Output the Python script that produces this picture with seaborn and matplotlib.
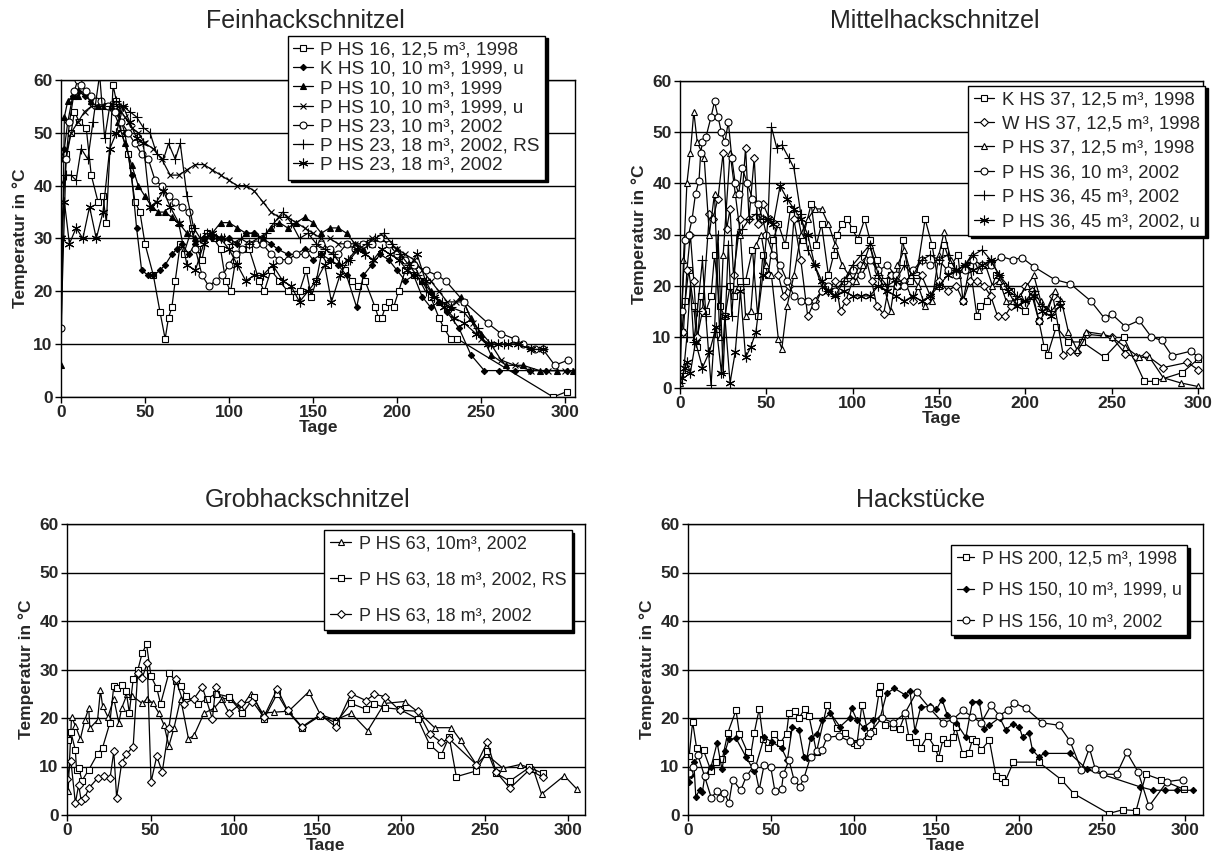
import matplotlib
matplotlib.use("Agg")
import matplotlib.pyplot as plt
import seaborn as sns

# ---------------- Feinhackschnitzel ----------------
fein_phs16_days = [3, 6, 8, 11, 15, 18, 22, 25, 27, 31, 33, 36, 40, 44, 47, 50, 55, 59, 62, 64,
                   66, 68, 71, 73, 78, 81, 84, 87, 91, 95, 98, 101, 104, 108, 112, 118, 121, 125, 130, 135,
                   140, 142, 146, 149, 152, 155, 159, 164, 169, 173, 177, 181, 187, 189, 191, 193, 195, 198, 201, 205,
                   210, 215, 220, 225, 228, 232, 236, 293, 301]
fein_phs16_temp = [46, 50, 54, 52, 51, 42, 37, 38, 33, 59, 56, 50, 46, 37, 35, 29, 23, 16, 11, 15,
                   17, 22, 29, 27, 32, 28, 26, 31, 30, 28, 22, 20, 26, 28, 28, 22, 20, 24, 22, 20,
                   19, 20, 24, 19, 22, 27, 25, 26, 24, 22, 21, 22, 17, 15, 15, 17, 18, 17, 20, 24,
                   23, 22, 19, 15, 13, 11, 11, 0, 1]

fein_khs10_days = [0, 2, 4, 7, 10, 14, 18, 22, 26, 30, 34, 38, 42, 45, 48, 52, 55, 59, 62, 66,
                   69, 72, 76, 80, 85, 90, 95, 100, 105, 110, 115, 120, 125, 129, 135, 140, 145, 150, 155, 160,
                   165, 170, 176, 180, 185, 190, 195, 200, 205, 210, 215, 220, 225, 230, 237, 244, 252, 261, 270, 279,
                   289, 301]
fein_khs10_temp = [45, 47, 52, 57, 58, 57, 56, 56, 55, 55, 54, 50, 42, 32, 24, 23, 23, 24, 25, 27,
                   28, 29, 27, 29, 30, 30, 30, 30, 29, 31, 31, 30, 29, 28, 27, 27, 28, 26, 27, 26,
                   25, 23, 17, 23, 25, 27, 26, 24, 22, 23, 19, 17, 18, 16, 13, 8, 5, 5, 5, 5,
                   5, 5]

fein_phs10_days = [0, 2, 4, 7, 10, 14, 18, 22, 26, 30, 34, 38, 42, 46, 50, 54, 58, 62, 66, 70,
                   75, 80, 85, 90, 95, 100, 105, 110, 115, 120, 125, 130, 135, 140, 145, 150, 155, 160, 165, 170,
                   175, 180, 185, 190, 195, 200, 205, 210, 215, 220, 225, 232, 238, 244, 250, 256, 265, 275, 285, 295,
                   305]
fein_phs10_temp = [6, 53, 56, 57, 57, 58, 56, 55, 55, 55, 52, 48, 44, 40, 38, 36, 35, 35, 34, 33,
                   31, 30, 30, 31, 33, 33, 32, 31, 31, 30, 32, 33, 32, 33, 34, 33, 31, 32, 32, 31,
                   29, 28, 29, 30, 29, 28, 26, 25, 22, 20, 18, 17, 19, 15, 12, 8, 6, 6, 5, 5,
                   5]

fein_phs10u_days = [0, 3, 6, 10, 14, 18, 22, 26, 30, 34, 38, 42, 46, 50, 55, 60, 65, 70, 75, 80,
                    85, 90, 95, 100, 105, 110, 115, 120, 125, 130, 135, 140, 145, 150, 155, 160, 165, 170, 175, 180,
                    185, 190, 195, 200, 205, 210, 215, 220, 225, 230, 235, 240, 245, 250, 256, 262, 270, 280, 290, 300,
                    306]
fein_phs10u_temp = [30, 45, 50, 52, 54, 55, 55, 55, 55, 55, 53, 51, 50, 48, 47, 45, 42, 42, 43, 44,
                    44, 43, 42, 41, 40, 40, 39, 37, 35, 34, 34, 33, 32, 31, 30, 30, 29, 29, 29, 29,
                    30, 30, 29, 28, 27, 26, 24, 22, 20, 18, 18, 18, 14, 11, 10, 7, 6, 5, 5, 5,
                    5]

fein_phs23_10_days = [0, 3, 5, 8, 10, 12, 15, 18, 21, 24, 28, 32, 36, 40, 44, 48, 52, 56, 60, 64,
                      68, 72, 76, 80, 84, 88, 92, 96, 100, 104, 108, 112, 116, 120, 125, 130, 135, 140, 145, 150,
                      155, 160, 165, 170, 175, 180, 185, 190, 195, 200, 205, 210, 217, 224, 229, 240, 254, 262, 270, 275,
                      282, 287, 294, 302]
fein_phs23_10_temp = [13, 45, 52, 58, 60, 59, 58, 57, 56, 56, 55, 54, 52, 50, 48, 46, 45, 41, 40, 38,
                      37, 36, 35, 28, 23, 21, 22, 23, 25, 27, 28, 29, 29, 29, 27, 26, 26, 27, 27, 28,
                      29, 28, 27, 29, 28, 29, 29, 30, 29, 27, 26, 25, 24, 23, 22, 18, 14, 12, 11, 10,
                      9, 9, 6, 7]

fein_phs23_18rs_days = [0, 3, 6, 9, 12, 16, 19, 23, 26, 29, 33, 37, 41, 45, 49, 53, 57, 61, 64, 68,
                        71, 75, 79, 83, 87, 92, 97, 102, 107, 112, 117, 122, 127, 132, 137, 142, 147, 152, 157, 162,
                        167, 172, 177, 182, 187, 192, 197, 202, 207, 212, 217, 222, 227, 232, 240, 248, 256, 264, 272, 280,
                        287]
fein_phs23_18rs_temp = [40, 42, 42, 41, 47, 45, 52, 61, 49, 55, 56, 55, 54, 53, 51, 50, 46, 45, 48, 45,
                        48, 38, 32, 30, 31, 30, 30, 29, 30, 29, 30, 31, 33, 35, 33, 30, 31, 29, 28, 27,
                        25, 26, 28, 29, 30, 31, 29, 27, 25, 23, 20, 19, 18, 17, 16, 13, 10, 10, 10, 9,
                        9]

fein_phs23_18_days = [0, 2, 5, 9, 13, 17, 21, 25, 29, 33, 37, 41, 45, 49, 53, 57, 61, 65, 70, 75,
                      80, 85, 90, 95, 100, 105, 110, 115, 120, 126, 132, 137, 142, 147, 152, 157, 161, 166, 171, 176,
                      181, 186, 191, 196, 201, 206, 212, 217, 222, 228, 234, 240, 247, 254, 260, 266, 272, 280, 287]
fein_phs23_18_temp = [30, 37, 29, 32, 30, 36, 30, 35, 47, 50, 55, 52, 49, 48, 36, 37, 39, 36, 33, 25,
                      24, 29, 31, 30, 28, 25, 22, 23, 23, 25, 22, 21, 18, 20, 22, 25, 18, 23, 26, 28,
                      27, 26, 28, 27, 26, 24, 27, 22, 19, 17, 15, 14, 12, 10, 10, 10, 10, 9, 9]

# ---------------- Mittelhackschnitzel ----------------
mittel_khs37_days = [1, 3, 5, 8, 10, 12, 15, 18, 20, 23, 26, 29, 31, 35, 38, 42, 45, 48, 51, 54,
                     57, 61, 64, 68, 71, 76, 79, 82, 86, 89, 91, 94, 97, 100, 103, 107, 110, 114, 118, 122,
                     126, 129, 133, 137, 142, 146, 150, 153, 157, 161, 164, 168, 172, 174, 178, 183, 187, 192, 196, 200,
                     204, 208, 211, 213, 218, 225, 233, 246, 257, 269, 275, 291, 300]
mittel_khs37_temp = [11, 17, 23, 16, 8, 18, 15, 18, 26, 16, 14, 20, 18, 21, 21, 27, 14, 26, 22, 29,
                     32, 28, 35, 34, 29, 36, 28, 32, 22, 26, 30, 32, 33, 31, 29, 33, 29, 25, 21, 22,
                     20, 29, 21, 22, 33, 28, 20, 28, 24, 26, 17, 24, 14, 16, 17, 22, 20, 19, 17, 15,
                     18, 13, 8, 6.5, 12, 9, 9, 6, 10, 1.3, 1.3, 3, 5.6]

mittel_whs37_days = [2, 4, 6, 8, 10, 13, 17, 19, 22, 25, 27, 29, 31, 35, 38, 40, 43, 45, 48, 52,
                     55, 57, 60, 63, 66, 70, 74, 78, 82, 86, 90, 93, 96, 100, 104, 108, 111, 114, 118, 122,
                     126, 130, 135, 140, 145, 150, 155, 160, 164, 168, 172, 176, 180, 184, 188, 192, 196, 200, 204, 208,
                     212, 216, 222, 226, 230, 236, 250, 258, 264, 270, 280, 294, 300]
mittel_whs37_temp = [11, 23, 30, 21, 10, 15, 34, 33, 37, 46, 31, 35, 22, 33, 47, 33, 45, 32, 36, 33,
                     32, 22, 18, 20, 33, 25, 14, 17, 19, 19, 21, 15, 17, 21, 24, 25, 21, 16, 14.5, 22,
                     20, 21, 17, 22, 18, 21, 19, 20, 17, 21, 21, 20, 18, 14, 14, 16, 17, 20, 19, 13,
                     15, 18, 6.5, 7.2, 7, 10.5, 10, 6.7, 6, 6.5, 4, 5, 3.6]

mittel_phs37_days = [0, 2, 4, 6, 8, 10, 14, 17, 20, 23, 25, 29, 32, 35, 38, 41, 44, 47, 50, 53,
                     57, 59, 62, 66, 70, 74, 78, 82, 86, 90, 94, 98, 102, 106, 110, 114, 118, 122, 126, 130,
                     134, 138, 142, 146, 150, 153, 157, 161, 165, 169, 173, 177, 181, 185, 189, 193, 197, 201, 205, 209,
                     213, 217, 221, 225, 230, 235, 245, 250, 258, 266, 272, 280, 290, 300]
mittel_phs37_temp = [1, 25, 40, 46, 54, 48, 45, 30, 38, 10, 26, 46, 38, 30, 14, 15, 28, 30, 24, 22,
                     9.5, 7.7, 16, 22, 30, 33, 35, 35, 32, 28, 24, 22, 21, 24, 28, 22, 20, 15, 24, 27,
                     22, 20, 16, 17, 26, 30.5, 25, 22, 24, 26, 23, 24, 20, 21, 17, 17, 18, 20, 22, 17,
                     15, 19, 17, 11, 7.5, 11, 10.5, 10, 8, 6, 6, 2, 1, 0.3]

mittel_phs36_10_days = [1, 3, 5, 7, 9, 11, 12, 13, 15, 18, 20, 22, 24, 26, 28, 30, 32, 34, 36, 39,
                        42, 45, 48, 50, 54, 58, 62, 66, 70, 74, 78, 82, 86, 90, 95, 100, 105, 110, 115, 120,
                        125, 130, 135, 140, 145, 150, 155, 160, 165, 170, 175, 180, 186, 193, 198, 205, 217, 226, 238, 246,
                        250, 258, 266, 273, 279, 285, 296, 300]
mittel_phs36_10_temp = [15, 29, 30, 33, 38, 40.5, 46, 48, 49, 53, 56, 53, 50, 48, 52, 45, 40, 38, 43, 40,
                        37, 36, 33, 30, 26, 24, 21, 18, 17, 17, 16, 19, 20, 19, 21, 23, 22, 25, 23, 24,
                        22, 20, 23, 25, 24, 25, 23, 22, 23, 25, 24, 24, 25.7, 25, 25.5, 23.7, 21.2, 20.4, 17, 13.6,
                        14.5, 12, 13.2, 10, 9.3, 6.3, 7.2, 6.1]

mittel_phs36_45_days = [0, 2, 4, 6, 8, 10, 13, 15, 18, 20, 22, 25, 28, 30, 33, 36, 40, 44, 48, 51,
                        53, 56, 59, 63, 66, 70, 74, 78, 82, 86, 90, 95, 100, 105, 110, 115, 120, 125, 130, 135,
                        140, 145, 150, 155, 160, 165, 170, 175, 180, 185, 190, 195, 200, 205, 210, 215, 220]
mittel_phs36_45_temp = [1, 3, 10, 20, 9, 15, 25, 14, 0.5, 11, 30, 3, 28, 14, 30, 31, 33, 34, 33, 33,
                        51, 47, 47.5, 45, 43, 34, 27, 24, 20, 19, 18, 21, 24, 26, 28, 22, 20, 21, 24, 22,
                        25, 26, 25, 26, 23, 24, 26, 27, 25, 22, 20, 18, 17, 19, 16, 15, 17]

mittel_phs36_45u_days = [1, 3, 4, 6, 9, 13, 17, 21, 24, 26, 29, 32, 35, 38, 41, 44, 48, 51, 54, 58,
                         62, 66, 70, 74, 78, 82, 86, 90, 95, 100, 105, 110, 115, 120, 125, 130, 135, 140, 145, 150,
                         155, 160, 165, 170, 175, 180, 185, 190, 195, 200, 205, 210, 215, 220]
mittel_phs36_45u_temp = [2, 4, 5, 3, 9, 4, 7, 12, 3, 14, 1, 7, 19, 6, 8, 11, 22, 33, 32, 39.5,
                         37, 35, 33, 30, 24, 21, 19, 18, 19, 18, 18, 18, 20, 19, 18, 17, 18, 17, 18, 20,
                         22, 23, 24, 23, 24, 25, 22, 19, 16, 17, 18, 15, 14, 16]

# ---------------- Grobhackschnitzel ----------------
grob_phs63_10_days = [0.7, 2.7, 5, 8, 10.7, 13, 13.7, 18.3, 20, 21.3, 24.5, 28, 31, 32.7, 36, 39, 45, 48, 51.5, 55,
                      58, 61, 64, 68, 72.7, 76, 82, 88, 93, 98, 104, 110, 117, 124, 132.6, 144.7, 151.6, 160.8, 170, 180,
                      190, 202, 211, 220, 230, 235.5, 245, 251, 261, 271, 279, 284, 297.6, 305]
grob_phs63_10_temp = [5, 20.2, 18.4, 15.7, 19.6, 22, 17.9, 19.6, 25.7, 22.5, 20.2, 24, 19, 22, 25, 24.6, 23, 24, 23, 21,
                      18.6, 14.3, 17.9, 24, 15.7, 16.4, 21, 22, 24, 24, 22, 25, 21, 21.2, 21.4, 25.4, 20.7, 19.6, 21, 17.4,
                      23, 23.4, 21, 18, 18, 15.4, 10.4, 12.5, 9.6, 10.4, 9.5, 4.3, 8.1, 5.4]

grob_phs63_18rs_days = [0.7, 2.3, 5, 5.7, 7, 9, 13, 18.3, 21.3, 25.6, 28, 30, 32.7, 35.4, 37.3, 39.6, 42.3, 45, 47.6, 50.3,
                        53.7, 56, 61, 65, 68, 71, 78.4, 83.5, 89, 96.7, 105, 112, 117.8, 125.8, 132, 140.6, 151.6, 160.8, 170, 179,
                        184, 190.5, 199, 210, 217, 224, 228.7, 233, 245, 251.5, 256.8, 265, 276.7, 284.7]
grob_phs63_18rs_temp = [15.4, 17.1, 13.4, 9.3, 9.6, 7.1, 9.3, 12.6, 13.9, 18.9, 26.6, 26.2, 26.8, 25.5, 21.1, 28, 29.8, 33.4, 35.2, 28.6,
                        26.2, 22.9, 29.3, 27.6, 26.6, 24.6, 22.9, 23.9, 25, 24.4, 21, 24.3, 19.8, 25, 21.4, 18, 20.5, 19, 23, 21.8,
                        22.9, 22.1, 21.8, 19.8, 14.5, 12.4, 16.1, 7.9, 9.1, 13.2, 8.6, 7, 9.8, 8.6]

grob_phs63_18_days = [0, 2.3, 5, 7, 8.5, 10.7, 13, 18.3, 22, 25.8, 28, 29.7, 32.7, 35.5, 39.6, 42.3, 45, 48, 50.3, 53.7,
                      57, 61, 65, 70, 76, 81, 87, 89, 97, 104, 111, 117.8, 125.8, 132, 140.6, 151.6, 160.8, 170, 179, 184,
                      190.5, 199, 210, 217, 224, 228.7, 245, 251.5, 256.8, 265, 276.7, 284.7]
grob_phs63_18_temp = [7.5, 11.2, 2.5, 6.2, 2.9, 3.6, 5.5, 7.6, 8, 7.7, 13.1, 3.6, 10.7, 12.5, 14.1, 29.3, 28.2, 31.4, 6.8, 12.1,
                      8.9, 18, 28, 22.9, 24, 26.4, 19.8, 26.4, 21, 23, 23.4, 20.2, 26, 21.6, 18.2, 20.7, 18.2, 25, 23.6, 24.9,
                      24.4, 21.6, 21.4, 16.8, 15, 15.7, 10.4, 15, 8.9, 5.5, 9.3, 7.8]

# ---------------- Hackstuecke ----------------
hack_phs200_days = [0.7, 2.8, 5.2, 9.4, 14, 17, 20.7, 24, 29, 31, 36, 37.6, 40, 43, 45.4, 48.2, 51.8, 55.8, 59.5, 61,
                    64.7, 67, 70.6, 73, 77.6, 84, 90, 95, 100, 102, 105, 109, 111.8, 115.3, 116, 118.8, 123.5, 127.8, 131, 133.4,
                    137.6, 140.5, 144.7, 149.4, 151.3, 154, 156.5, 160, 161.6, 165.9, 169.4, 171.8, 174, 177, 182, 186, 189.4, 191.3, 196.5, 211.8,
                    225.4, 233, 254, 262.8, 270.6, 276.5, 285.4, 299.5]
hack_phs200_temp = [12.2, 19.2, 13.8, 13.3, 9, 11, 11.5, 16.9, 21.6, 16.8, 12.9, 11.8, 16.9, 21.9, 15.6, 13.8, 16.8, 14.9, 16.8, 21,
                    21.4, 20, 21.9, 20.5, 13, 22.7, 18, 17, 14.9, 14.5, 22.7, 16.3, 17.4, 25.1, 26.5, 18.5, 18.2, 17.8, 20.7, 16.1,
                    15.1, 13.9, 16.3, 13.8, 11.8, 15.6, 14.9, 16.1, 18.2, 12.5, 12.7, 15.6, 15.2, 13.4, 15.4, 8, 7.6, 6.8, 10.9, 10.9,
                    7.3, 4.4, 0.3, 1.1, 0.9, 8.4, 7.3, 5.3]

hack_phs150_days = [0.7, 1.6, 3.5, 4.7, 7, 8.7, 10, 14, 17.6, 20.5, 22.4, 24.7, 29, 35, 40, 46, 51, 56.5, 60, 63,
                    67, 70, 71.8, 74, 78, 81, 86, 91.8, 97.6, 98.8, 102, 106, 111.8, 116, 120, 124.7, 131, 134, 137, 140.5,
                    146, 150, 153.4, 156.5, 162, 167.8, 171.8, 175.8, 178.8, 182, 188.2, 191.8, 196, 200, 202, 205.9, 208, 211.8, 215.3, 230.6,
                    241, 273, 281, 288, 295, 305]
hack_phs150_temp = [6.9, 8.3, 10.9, 3.8, 5.1, 4.7, 7.8, 10, 14.9, 9.4, 13.1, 15.6, 15.8, 12, 9, 16, 15, 13.8, 11.3, 18.2,
                    17.6, 12, 11.8, 15.8, 16.7, 19.5, 21, 18.2, 20, 22, 19.6, 18, 19.6, 20, 25.1, 26.1, 24.8, 25.6, 17.4, 22.2,
                    22.4, 21.8, 23.8, 20.7, 19, 16, 23.4, 23.4, 17.8, 18.5, 20.1, 17.6, 18.7, 18.2, 16.1, 17, 13.4, 12, 12.7, 12.7,
                    9.4, 5.8, 5.1, 5.1, 5.1, 5.1]

hack_phs156_days = [0.7, 3, 6, 10, 14, 17.6, 19.3, 22, 24.7, 27, 31.8, 35.3, 40, 43, 46, 50, 52.5, 56.5, 57.6, 61,
                    64, 67.5, 70, 74, 78, 80.7, 84, 91, 97.6, 104, 110, 117, 124, 131, 138, 146, 154, 160, 166, 171.8,
                    177, 183, 188, 193, 197, 204, 214, 224, 230.6, 237.6, 242.4, 246, 250.6, 258.8, 265, 271.8, 278.4, 289.4, 298.8]
hack_phs156_temp = [8.7, 10, 12.3, 8, 3.6, 4.9, 3.6, 4.5, 2.5, 7.3, 5.1, 8, 10.2, 5.2, 10.4, 9.8, 4.9, 5.4, 8.4, 11.3,
                    7.3, 5.8, 7.6, 12, 13.1, 13.3, 16, 16.3, 15.2, 15, 17, 20, 19, 21, 25.3, 22, 19, 19.7, 21.6, 20.2,
                    19, 22.6, 20.5, 21.6, 23.1, 22, 19, 18.5, 15.3, 9.3, 13.8, 9.4, 8.4, 8.4, 12.9, 8.9, 1.8, 6.9, 7.3]

W, H = 1212, 851
sns.set_theme(style="white")
plt.rcParams['font.family'] = ['Liberation Sans', 'DejaVu Sans']

fig = plt.figure(figsize=(W / 100, H / 100), dpi=100)
fig.patch.set_facecolor('white')


def px_axes(left, right, top, bottom):
    return fig.add_axes([left / W, 1 - bottom / H, (right - left) / W, (bottom - top) / H])


def draw(ax, days, temps, label, marker, size, face='white'):
    sns.lineplot(x=days, y=temps, ax=ax, color='black', linewidth=0.9, marker=marker,
                 markersize=size, markerfacecolor=face, markeredgecolor='black',
                 markeredgewidth=0.8, label=label, estimator=None, sort=False)


def style_axes(ax, xmax, title, title_x, title_y):
    ax.set_xlim(0, xmax)
    ax.set_ylim(0, 60)
    ax.set_xticks(range(0, 301, 50))
    ax.set_yticks(range(0, 61, 10))
    ax.yaxis.grid(True, color='black', linewidth=1.0)
    ax.xaxis.grid(False)
    ax.set_axisbelow(True)
    for s in ax.spines.values():
        s.set_color('black')
        s.set_linewidth(1.0)
    ax.tick_params(axis='both', direction='out', length=4, width=1, color='black',
                   labelsize=12.5, pad=2, bottom=True, left=True)
    for lab in ax.get_xticklabels() + ax.get_yticklabels():
        lab.set_fontweight('bold')
    ax.set_xlabel('Tage', fontsize=12.5, fontweight='bold', labelpad=0)
    ax.set_ylabel('Temperatur in °C', fontsize=12.5, fontweight='bold', labelpad=4)
    fig.text(title_x / W, 1 - title_y / H, title, ha='center', va='center', fontsize=18)


def legend(ax, x0, y0, fontsize, spacing, handle_len):
    ax.legend(loc='upper left', bbox_to_anchor=(x0, y0), bbox_transform=ax.transData,
              frameon=True, fancybox=False, edgecolor='black', framealpha=1,
              shadow={'color': 'black', 'alpha': 1, 'ox': 2, 'oy': -2},
              fontsize=fontsize, labelspacing=spacing, handlelength=handle_len,
              handletextpad=0.4, borderpad=0.3, borderaxespad=0)
    ax.get_legend().get_frame().set_linewidth(1.0)


# Feinhackschnitzel
ax1 = px_axes(61, 575, 80, 397)
draw(ax1, fein_phs16_days, fein_phs16_temp, 'P HS 16, 12,5 m³, 1998', 's', 5)
draw(ax1, fein_khs10_days, fein_khs10_temp, 'K HS 10, 10 m³, 1999, u', 'D', 3.2, 'black')
draw(ax1, fein_phs10_days, fein_phs10_temp, 'P HS 10, 10 m³, 1999', '^', 4.0, 'black')
draw(ax1, fein_phs10u_days, fein_phs10u_temp, 'P HS 10, 10 m³, 1999, u', 'x', 5)
draw(ax1, fein_phs23_10_days, fein_phs23_10_temp, 'P HS 23, 10 m³, 2002', 'o', 5)
draw(ax1, fein_phs23_18rs_days, fein_phs23_18rs_temp, 'P HS 23, 18 m³, 2002, RS', '+', 7)
draw(ax1, fein_phs23_18_days, fein_phs23_18_temp, 'P HS 23, 18 m³, 2002', (6, 2, 0), 7)
style_axes(ax1, 306, 'Feinhackschnitzel', 305, 21)
legend(ax1, 135, 68.4, 13.7, 0.1, 1.0)

# Mittelhackschnitzel
ax2 = px_axes(680, 1203, 81, 388)
draw(ax2, mittel_khs37_days, mittel_khs37_temp, 'K HS 37, 12,5 m³, 1998', 's', 5)
draw(ax2, mittel_whs37_days, mittel_whs37_temp, 'W HS 37, 12,5 m³, 1998', 'D', 4)
draw(ax2, mittel_phs37_days, mittel_phs37_temp, 'P HS 37, 12,5 m³, 1998', '^', 5)
draw(ax2, mittel_phs36_10_days, mittel_phs36_10_temp, 'P HS 36, 10 m³, 2002', 'o', 5)
draw(ax2, mittel_phs36_45_days, mittel_phs36_45_temp, 'P HS 36, 45 m³, 2002', '+', 7)
draw(ax2, mittel_phs36_45u_days, mittel_phs36_45u_temp, 'P HS 36, 45 m³, 2002, u', (6, 2, 0), 7)
style_axes(ax2, 303, 'Mittelhackschnitzel', 935, 21)
legend(ax2, 167, 59.1, 13.3, 0.4, 1.1)

# Grobhackschnitzel
ax3 = px_axes(67, 585, 524, 815)
draw(ax3, grob_phs63_10_days, grob_phs63_10_temp, 'P HS 63, 10m³, 2002', '^', 5)
draw(ax3, grob_phs63_18rs_days, grob_phs63_18rs_temp, 'P HS 63, 18 m³, 2002, RS', 's', 5)
draw(ax3, grob_phs63_18_days, grob_phs63_18_temp, 'P HS 63, 18 m³, 2002', 'D', 4)
style_axes(ax3, 310, 'Grobhackschnitzel', 308, 500)
legend(ax3, 154, 58.7, 13, 1.05, 1.2)

# Hackstuecke
ax4 = px_axes(688, 1203, 524, 815)
draw(ax4, hack_phs200_days, hack_phs200_temp, 'P HS 200, 12,5 m³, 1998', 's', 5)
draw(ax4, hack_phs150_days, hack_phs150_temp, 'P HS 150, 10 m³, 1999, u', 'D', 3.2, 'black')
draw(ax4, hack_phs156_days, hack_phs156_temp, 'P HS 156, 10 m³, 2002', 'o', 5)
style_axes(ax4, 311, 'Hackstücke', 921, 500)
legend(ax4, 159, 55.6, 12.8, 0.8, 1.0)

# headline of the page, cut off at the upper edge as in the source
fig.text(0.47, 1 + 6 / H, 'Temperaturverläufe ausgewählter Hackschnitzelschüttungen gegenüber der Lagerdauer (in °C)',
         ha='center', va='baseline', fontsize=17)

fig.savefig('out.png', dpi=100, facecolor='white')
